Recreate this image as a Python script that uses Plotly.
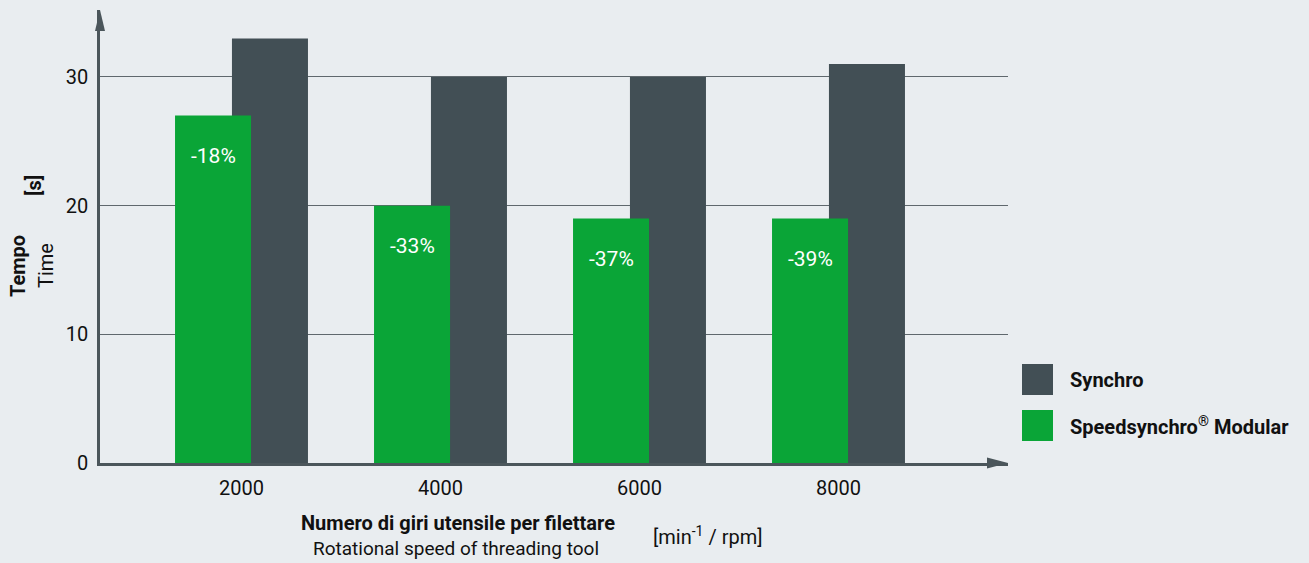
import plotly.graph_objects as go

# ---- data ----
rpm_labels = ["2000", "4000", "6000", "8000"]
synchro = [33, 30, 30, 31]
speedsynchro = [27, 20, 19, 19]
reduction_labels = ["-18%", "-33%", "-37%", "-39%"]
y_ticks = [0, 10, 20, 30]

# ---- style ----
BG = "#e9edf0"
DARK = "#424f55"
GREEN = "#0aa537"
AXIS = "#4b565b"
FONT = "Roboto"

W, H = 1309, 563
ML, MR, MT, MB = 100, 301, 10, 100
PW, PH = W - ML - MR, H - MT - MB

def px(x):
    return (x - ML) / PW

def py(y):
    return (H - MB - y) / PH

xs = list(range(len(rpm_labels)))
bw = 0.382
off_dark = -0.048
off_green = -0.334

fig = go.Figure()
fig.add_trace(go.Bar(x=xs, y=synchro, width=bw, offset=off_dark,
                     marker=dict(color=DARK, line=dict(width=0)),
                     name="Synchro", showlegend=False, hoverinfo="y"))
fig.add_trace(go.Bar(x=xs, y=speedsynchro, width=bw, offset=off_green,
                     marker=dict(color=GREEN, line=dict(width=0)),
                     name="Speedsynchro® Modular", showlegend=False, hoverinfo="y"))

annotations = []
for i, (v, t) in enumerate(zip(speedsynchro, reduction_labels)):
    annotations.append(dict(x=i + off_green + bw / 2, y=v, xref="x", yref="y",
                            text=t, showarrow=False, yshift=-40, yanchor="middle",
                            font=dict(family=FONT, size=21, color="white")))

def txt(x, y, text, size=20, angle=0, xanchor="center", color="#111"):
    annotations.append(dict(x=px(x), y=py(y), xref="paper", yref="paper", text=text,
                            showarrow=False, textangle=angle, xanchor=xanchor,
                            yanchor="middle", font=dict(family=FONT, size=size, color=color)))

# axis titles
txt(18, 266, "<b>Tempo</b>", angle=-90)
txt(46, 266, "Time", angle=-90)
txt(34, 186, "<b>[s]</b>", angle=-90)
txt(458, 523, "<b>Numero di giri utensile per filettare</b>", size=20)
txt(456, 548, "Rotational speed of threading tool", size=19)
txt(708, 536, "[min<sup>-1</sup> / rpm]", size=20)

# legend (manual)
shapes = []
for (y0, col, label) in [(364, DARK, "Synchro"), (410, GREEN, "Speedsynchro<sup>®</sup> Modular")]:
    shapes.append(dict(type="rect", xref="paper", yref="paper",
                       x0=px(1022), x1=px(1053), y0=py(y0 + 31), y1=py(y0),
                       fillcolor=col, line=dict(width=0)))
    txt(1068, y0 + 16, "<b>" + label + "</b>", size=20, xanchor="left")

# axis arrowheads
shapes.append(dict(type="path", xref="paper", yref="paper",
                   path=f"M {px(95)} {py(31)} L {px(100)} {py(10)} L {px(105)} {py(31)} Z",
                   fillcolor=AXIS, line=dict(width=0)))
shapes.append(dict(type="path", xref="paper", yref="paper",
                   path=f"M {px(987)} {py(457.5)} L {px(1008)} {py(463)} L {px(987)} {py(468.5)} Z",
                   fillcolor=AXIS, line=dict(width=0)))

x_left = (ML - 241.5) / 199
x_right = (ML + PW - 241.5) / 199
y_top = PH / 12.867

fig.update_layout(
    width=W, height=H,
    margin=dict(l=ML, r=MR, t=MT, b=MB, pad=0),
    paper_bgcolor=BG, plot_bgcolor=BG,
    barmode="overlay",
    showlegend=False,
    font=dict(family=FONT, size=20, color="#111"),
    xaxis=dict(range=[x_left, x_right], tickmode="array", tickvals=xs, ticktext=rpm_labels,
               showgrid=False, zeroline=False, showline=True, linecolor=AXIS, linewidth=2.5,
               ticks="", ticklabelstandoff=5, tickfont=dict(family=FONT, size=20, color="#111"),
               fixedrange=True),
    yaxis=dict(range=[0, y_top], tickmode="array", tickvals=y_ticks,
               showgrid=True, gridcolor="#5f686d", gridwidth=1, zeroline=False,
               showline=True, linecolor=AXIS, linewidth=2.5,
               ticks="", ticklabelstandoff=5, tickfont=dict(family=FONT, size=20, color="#111"),
               fixedrange=True),
    annotations=annotations,
    shapes=shapes,
)

fig.write_html("out.html")
